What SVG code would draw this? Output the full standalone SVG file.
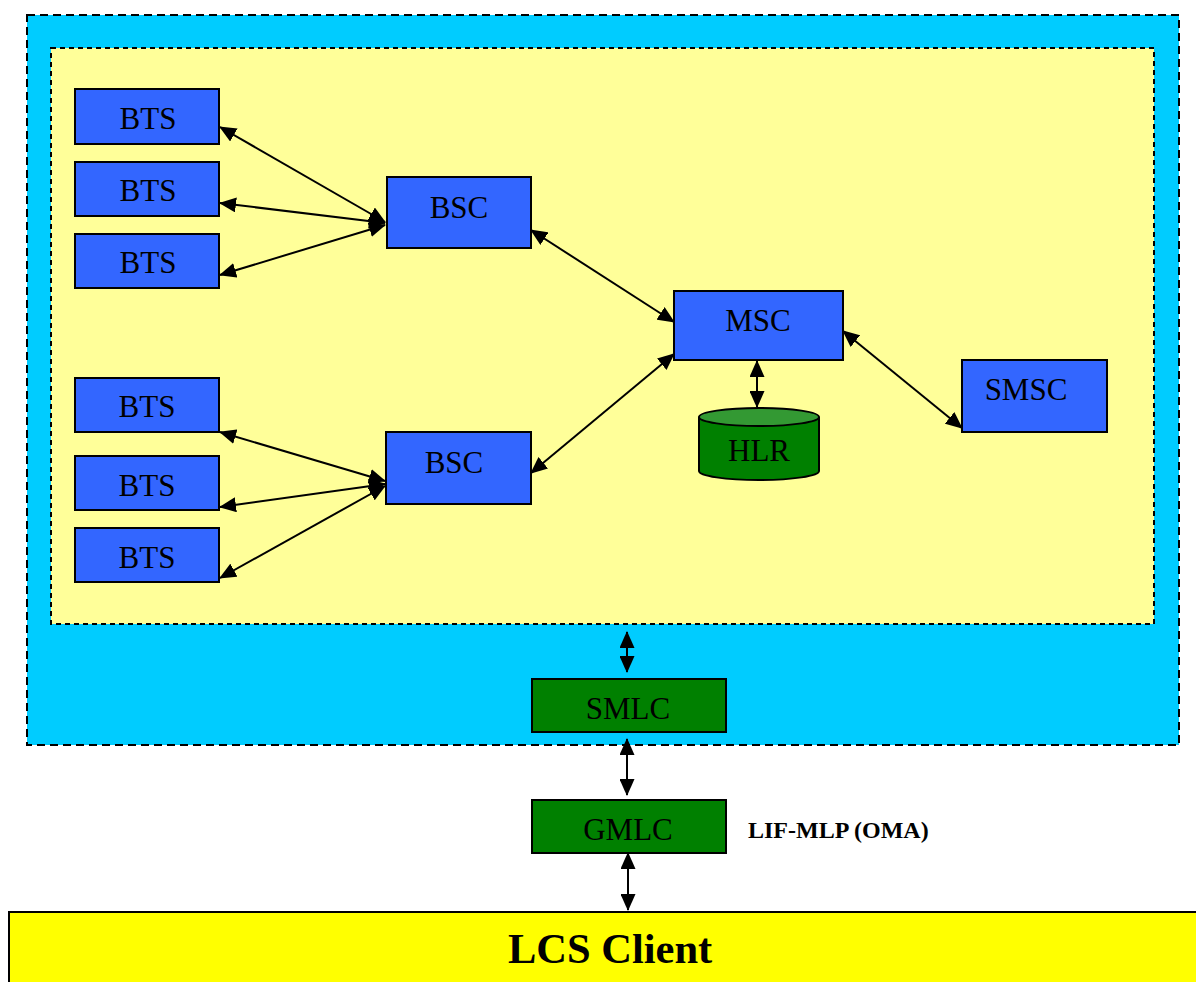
<svg xmlns="http://www.w3.org/2000/svg" width="1196" height="982" viewBox="0 0 1196 982">
<style>
.node{fill:#3366FF;stroke:#000;stroke-width:2}
.gnode{fill:#008000;stroke:#000;stroke-width:2}
.lbl{font-family:"Liberation Serif","Times New Roman",serif;font-size:31px;fill:#000;text-anchor:middle}
.con{stroke:#000;stroke-width:2;fill:none;marker-start:url(#ah);marker-end:url(#ah)}
</style>
<defs>
<marker id="ah" markerUnits="userSpaceOnUse" markerWidth="17" markerHeight="15" refX="16" refY="7.5" orient="auto-start-reverse">
<path d="M0,0 L17,7.5 L0,15 Z" fill="#000"/>
</marker>
</defs>
<rect width="1196" height="982" fill="#fff"/>
<g id="outer">
<rect x="27" y="15" width="1152" height="730" fill="#00CCFF" stroke="#000" stroke-width="2" stroke-dasharray="8,5"/>
</g>
<g id="inner">
<rect x="51" y="48" width="1103" height="576" fill="#FFFF99" stroke="#000" stroke-width="2" stroke-dasharray="5,4"/>
</g>
<g id="connectors">
<line class="con" x1="220" y1="127" x2="385" y2="222"/>
<line class="con" x1="220" y1="203" x2="385" y2="223"/>
<line class="con" x1="220" y1="275" x2="385" y2="225"/>
<line class="con" x1="220" y1="432" x2="385" y2="481"/>
<line class="con" x1="220" y1="507" x2="385" y2="484"/>
<line class="con" x1="220" y1="578" x2="385" y2="486"/>
<line class="con" x1="531" y1="230" x2="674" y2="322"/>
<line class="con" x1="531" y1="473" x2="674" y2="354"/>
<line class="con" x1="843" y1="331" x2="962" y2="428"/>
<line class="con" x1="757" y1="361" x2="757" y2="407"/>
<line class="con" x1="627" y1="632" x2="627" y2="672"/>
<line class="con" x1="627" y1="739" x2="627" y2="795"/>
<line class="con" x1="628" y1="853" x2="628" y2="910"/>
</g>
<g id="bts1"><rect class="node" x="75" y="89" width="144" height="55"/><text class="lbl" x="148" y="129">BTS</text></g>
<g id="bts2"><rect class="node" x="75" y="162" width="144" height="54"/><text class="lbl" x="148" y="201">BTS</text></g>
<g id="bts3"><rect class="node" x="75" y="234" width="144" height="54"/><text class="lbl" x="148" y="273">BTS</text></g>
<g id="bts4"><rect class="node" x="75" y="378" width="144" height="54"/><text class="lbl" x="147" y="417">BTS</text></g>
<g id="bts5"><rect class="node" x="75" y="456" width="144" height="54"/><text class="lbl" x="147" y="496">BTS</text></g>
<g id="bts6"><rect class="node" x="75" y="528" width="144" height="54"/><text class="lbl" x="147" y="568">BTS</text></g>
<g id="bsc1"><rect class="node" x="387" y="177" width="144" height="71"/><text class="lbl" x="459" y="218">BSC</text></g>
<g id="bsc2"><rect class="node" x="386" y="432" width="145" height="72"/><text class="lbl" x="454" y="473">BSC</text></g>
<g id="msc"><rect class="node" x="674" y="291" width="169" height="69"/><text class="lbl" x="758" y="331">MSC</text></g>
<g id="smsc"><rect class="node" x="962" y="360" width="145" height="72"/><text class="lbl" x="1026" y="400">SMSC</text></g>
<g id="hlr">
<path d="M699,417 L699,471 A60,9 0 0 0 819,471 L819,417" fill="#008000" stroke="#000" stroke-width="2"/>
<ellipse cx="759" cy="417" rx="60" ry="9" fill="#339933" stroke="#000" stroke-width="2"/>
<text class="lbl" x="759" y="461">HLR</text>
</g>
<g id="smlc"><rect class="gnode" x="532" y="679" width="194" height="53"/><text class="lbl" x="628" y="719">SMLC</text></g>
<g id="gmlc"><rect class="gnode" x="532" y="800" width="194" height="53"/><text class="lbl" x="628" y="840">GMLC</text></g>
<text x="748" y="838" font-family="Liberation Serif, Times New Roman, serif" font-size="24" font-weight="bold">LIF-MLP (OMA)</text>
<g id="lcs">
<rect x="9" y="912" width="1200" height="80" fill="#FFFF00" stroke="#000" stroke-width="2"/>
<text x="508" y="963" font-family="Liberation Serif, Times New Roman, serif" font-size="42.5" font-weight="bold">LCS Client</text>
</g>
</svg>
